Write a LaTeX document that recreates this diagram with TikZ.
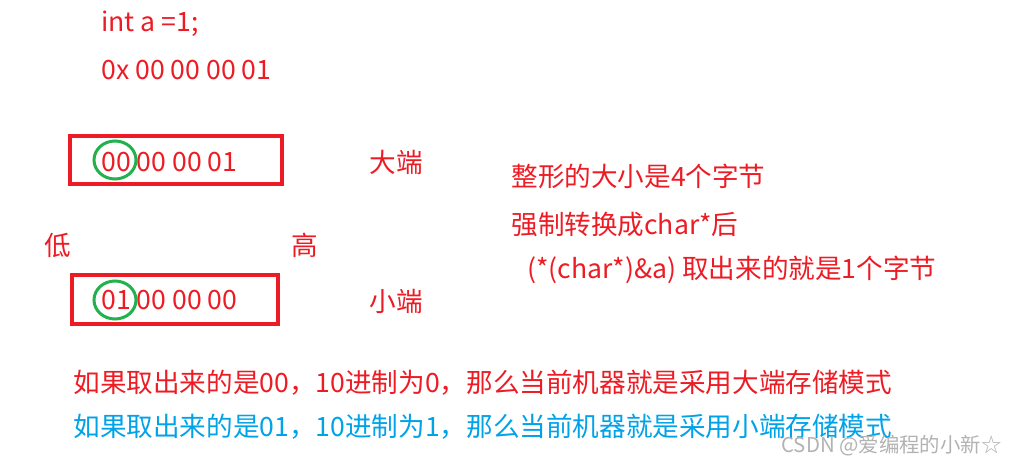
\documentclass[tikz,border=0pt]{standalone}
\usepackage{fontspec}
\setmainfont{Noto Sans CJK SC}
\usetikzlibrary{positioning}
\definecolor{notered}{RGB}{237,28,36}
\definecolor{noteblue}{RGB}{0,162,232}
\definecolor{markgreen}{RGB}{34,177,76}
\tikzset{
  note/.style={
    anchor=west,
    inner sep=0pt,
    text=notered,
    font=\fontsize{13.3}{15}\selectfont
  },
  blue note/.style={
    note,
    text=noteblue
  },
  byte box/.style={
    draw=notered,
    line width=2.3pt
  },
  byte mark/.style={
    draw=markgreen,
    line width=1.5pt
  },
  wmark/.style={
    anchor=west,
    inner sep=0pt,
    text=black!30,
    font=\fontsize{10.2}{12}\selectfont
  }
}

\begin{document}
\begin{tikzpicture}[x=0.5pt,y=-0.5pt]
  \useasboundingbox (0,0) rectangle (1011,464);

  % value of a
  \node[note] (decl) at (101,24) {int a =1;};
  \node[note] (hex) at (101,70) {0x 00 00 00 01};

  % big endian
  \draw[byte box] (70,136) rectangle (282,184);
  \node[note] (bigbytes) at (101,162) {00 00 00 01};
  \draw[byte mark] (115,160) ellipse [x radius=10.5pt, y radius=9.5pt];
  \node[note] (big) at (369,162) {大端};

  % low / high
  \node[note] (low) at (44,245) {低};
  \node[note] (high) at (291,245) {高};

  % little endian
  \draw[byte box] (72,275) rectangle (278,324);
  \node[note] (smallbytes) at (101,300) {01 00 00 00};
  \draw[byte mark] (115,300) ellipse [x radius=10.5pt, y radius=9.5pt];
  \node[note] (small) at (369,301) {小端};

  % explanation
  \node[note] (size) at (511,176) {整形的大小是4个字节};
  \node[note] (cast) at (511,224) {强制转换成char*后};
  \node[note] (deref) at (527,270) {(*(char*)\&a) 取出来的就是1个字节};

  % conclusion
  \node[note] (ifbig) at (73,383) {如果取出来的是00，10进制为0，那么当前机器就是采用大端存储模式};
  \node[blue note] (ifsmall) at (73,427) {如果取出来的是01，10进制为1，那么当前机器就是采用小端存储模式};

  \node[wmark] (csdn) at (781,446) {CSDN @爱编程的小新☆};
\end{tikzpicture}
\end{document}
